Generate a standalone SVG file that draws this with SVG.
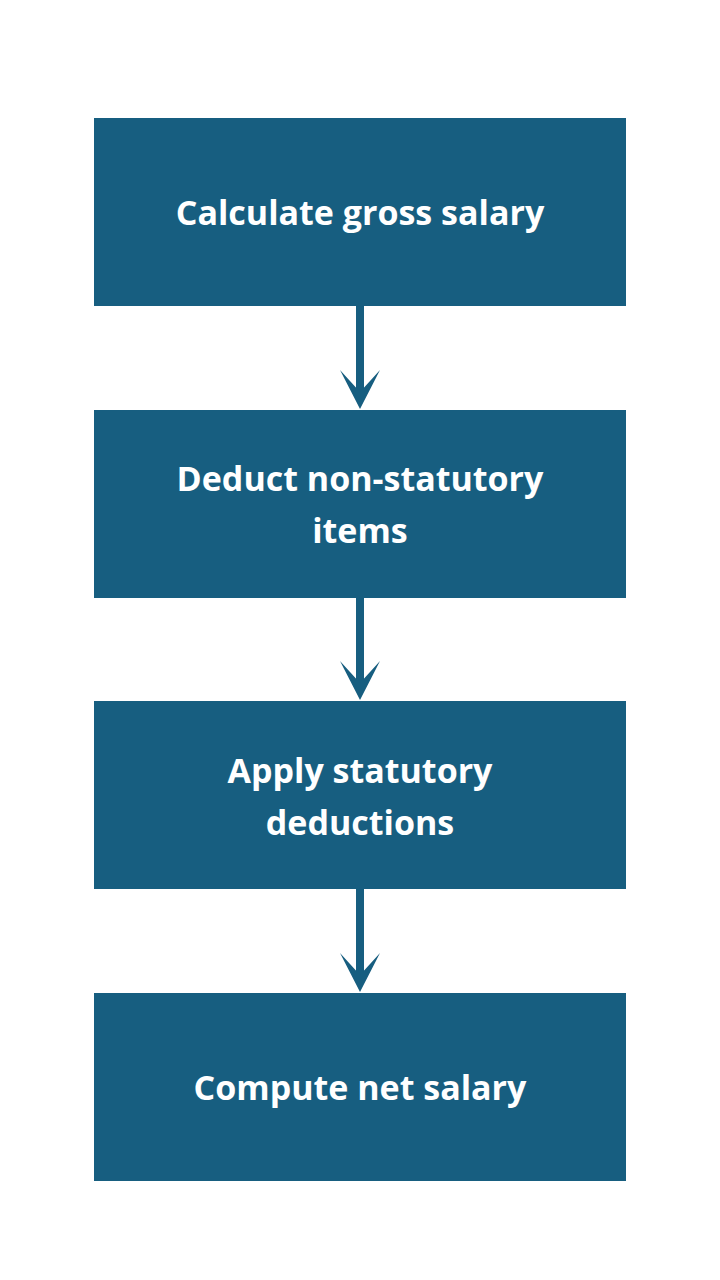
<svg xmlns="http://www.w3.org/2000/svg" width="720" height="1280" viewBox="0 0 720 1280">
<style>
.b{fill:#175e80}
.t{fill:#fff;font-family:"Open Sans","Liberation Sans",sans-serif;font-weight:bold;font-size:34px;text-anchor:middle}
.s{stroke:#175e80;stroke-width:8;fill:none}
.h{fill:#175e80}
</style>
<rect width="720" height="1280" fill="#fff"/>
<g id="n1"><rect class="b" x="94" y="118" width="532" height="188"/><text class="t" x="360" y="225">Calculate gross salary</text></g>
<g id="n2"><rect class="b" x="94" y="410" width="532" height="188"/><text class="t" x="360" y="491">Deduct non-statutory</text><text class="t" x="360" y="543">items</text></g>
<g id="n3"><rect class="b" x="94" y="701" width="532" height="188"/><text class="t" x="360" y="783">Apply statutory</text><text class="t" x="360" y="835">deductions</text></g>
<g id="n4"><rect class="b" x="94" y="993" width="532" height="188"/><text class="t" x="360" y="1100">Compute net salary</text></g>
<g id="connectors">
<line class="s" x1="360" y1="306" x2="360" y2="395"/><path class="h" d="M340,370 L360,409 L380,370 L360,392 Z"/>
<line class="s" x1="360" y1="598" x2="360" y2="686"/><path class="h" d="M340,661 L360,700 L380,661 L360,683 Z"/>
<line class="s" x1="360" y1="889" x2="360" y2="978"/><path class="h" d="M340,953 L360,992 L380,953 L360,975 Z"/>
</g>
</svg>
